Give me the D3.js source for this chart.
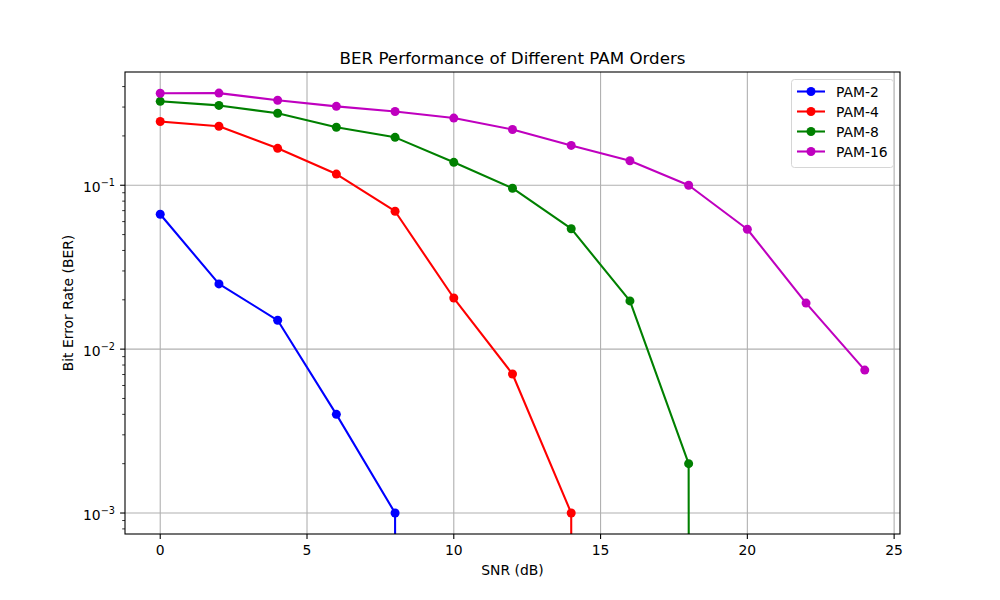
<!DOCTYPE html>
<html>
<head>
<meta charset="utf-8">
<script src="https://cdn.jsdelivr.net/npm/d3@7"></script>
<style>
  body { margin: 0; background: #fff; }
  svg { font-family: 'DejaVu Sans', sans-serif; }
</style>
</head>
<body>
<div id="plot"></div>
<script>
// data (BER 0 = no errors, drawn to the bottom like matplotlib)
const snr = [0, 2, 4, 6, 8, 10, 12, 14, 16, 18, 20, 22, 24];
const pam2  = [0.0665, 0.025, 0.015, 0.004, 0.001, 0, 0, 0, 0, 0, 0, 0, 0];
const pam4  = [0.245, 0.229, 0.168, 0.117, 0.0694, 0.0205, 0.00705, 0.001, 0, 0, 0, 0, 0];
const pam8  = [0.325, 0.307, 0.275, 0.226, 0.196, 0.138, 0.0959, 0.0543, 0.0197, 0.002, 0, 0, 0];
const pam16 = [0.364, 0.365, 0.330, 0.303, 0.282, 0.257, 0.219, 0.175, 0.141, 0.100, 0.0539, 0.0191, 0.00745];
const names = ['PAM-2', 'PAM-4', 'PAM-8', 'PAM-16'];
const colors = ['#0000ff', '#ff0000', '#008000', '#bf00bf'];
const xTicks = [0, 5, 10, 15, 20, 25];
const yTicks = [1e-1, 1e-2, 1e-3];

const series = [pam2, pam4, pam8, pam16];

const W = 1000, H = 600;
const m = { left: 125, right: 900, top: 72, bottom: 534 };

const svg = d3.select('#plot').append('svg')
  .attr('width', W).attr('height', H).attr('viewBox', [0, 0, W, H]);

const sx = d3.scaleLinear().domain([-1.2, 25.2]).range([m.left, m.right]);
const sy = d3.scaleLog().domain([Math.pow(10, -3.128), Math.pow(10, -0.309)])
  .range([m.bottom, m.top]);

svg.append('clipPath').attr('id', 'clip').append('rect')
  .attr('x', m.left).attr('y', m.top)
  .attr('width', m.right - m.left).attr('height', m.bottom - m.top);

// grid
const grid = svg.append('g').attr('stroke', '#b0b0b0').attr('stroke-width', 1.1);
grid.selectAll('.gx').data(xTicks.filter(t => t <= 25.2)).join('line')
  .attr('x1', d => sx(d)).attr('x2', d => sx(d))
  .attr('y1', m.top).attr('y2', m.bottom);
grid.selectAll('.gy').data(yTicks).join('line')
  .attr('x1', m.left).attr('x2', m.right)
  .attr('y1', d => sy(d)).attr('y2', d => sy(d));

// lines + markers
const plot = svg.append('g').attr('clip-path', 'url(#clip)');
const line = d3.line()
  .x((d, i) => sx(snr[i]))
  .y(d => sy(Math.max(d, 1e-300)));
series.forEach((s, k) => {
  plot.append('path').attr('d', line(s))
    .attr('fill', 'none').attr('stroke', colors[k]).attr('stroke-width', 2.08)
    .attr('stroke-linejoin', 'round').attr('stroke-linecap', 'square');
  plot.append('g').selectAll('circle')
    .data(s.map((v, i) => [snr[i], v]).filter(d => d[1] > 0))
    .join('circle')
    .attr('cx', d => sx(d[0])).attr('cy', d => sy(d[1]))
    .attr('r', 4.5).attr('fill', colors[k]);
});

// axes frame
svg.append('rect')
  .attr('x', m.left).attr('y', m.top)
  .attr('width', m.right - m.left).attr('height', m.bottom - m.top)
  .attr('fill', 'none').attr('stroke', '#000').attr('stroke-width', 1.1);

// x ticks
const xt = svg.append('g');
xt.selectAll('line').data(xTicks).join('line')
  .attr('x1', d => sx(d)).attr('x2', d => sx(d))
  .attr('y1', m.bottom).attr('y2', m.bottom + 4.9)
  .attr('stroke', '#000').attr('stroke-width', 1.1);
xt.selectAll('text').data(xTicks).join('text')
  .attr('x', d => sx(d)).attr('y', m.bottom + 21)
  .attr('text-anchor', 'middle').attr('font-size', 13.9)
  .text(d => d);

// y ticks (major + minor)
const minor = [];
for (let e = -4; e <= 0; e++)
  for (let k = 2; k <= 9; k++) {
    const v = k * Math.pow(10, e);
    if (v >= sy.domain()[0] && v <= sy.domain()[1]) minor.push(v);
  }
const yt = svg.append('g');
yt.selectAll('.mn').data(minor).join('line')
  .attr('x1', m.left - 2.8).attr('x2', m.left)
  .attr('y1', d => sy(d)).attr('y2', d => sy(d))
  .attr('stroke', '#000').attr('stroke-width', 0.8);
yt.selectAll('.mj').data(yTicks).join('line')
  .attr('x1', m.left - 4.9).attr('x2', m.left)
  .attr('y1', d => sy(d)).attr('y2', d => sy(d))
  .attr('stroke', '#000').attr('stroke-width', 1.1);
const ylab = yt.selectAll('text').data(yTicks).join('text')
  .attr('x', m.left - 10).attr('y', d => sy(d) + 6.5)
  .attr('text-anchor', 'end').attr('font-size', 13.9);
ylab.append('tspan').text('10');
ylab.append('tspan').attr('dy', -6).attr('font-size', 9.7)
  .text(d => '\u2212' + Math.round(-Math.log10(d)));

// labels
svg.append('text').attr('x', (m.left + m.right) / 2).attr('y', 64)
  .attr('text-anchor', 'middle').attr('font-size', 16.7)
  .text('BER Performance of Different PAM Orders');
svg.append('text').attr('x', (m.left + m.right) / 2).attr('y', 575)
  .attr('text-anchor', 'middle').attr('font-size', 13.9)
  .text('SNR (dB)');
svg.append('text')
  .attr('transform', `translate(73,${(m.top + m.bottom) / 2}) rotate(-90)`)
  .attr('text-anchor', 'middle').attr('font-size', 13.9)
  .text('Bit Error Rate (BER)');

// legend
const lg = svg.append('g');
lg.append('rect').attr('x', 791.5).attr('y', 79.5).attr('width', 102).attr('height', 88)
  .attr('rx', 3).attr('fill', '#fff').attr('fill-opacity', 0.8)
  .attr('stroke', '#d6d6d6').attr('stroke-width', 1);
names.forEach((n, i) => {
  const y = 91.5 + i * 20;
  lg.append('line').attr('x1', 797).attr('x2', 825).attr('y1', y).attr('y2', y)
    .attr('stroke', colors[i]).attr('stroke-width', 2.08);
  lg.append('circle').attr('cx', 811).attr('cy', y).attr('r', 4.5).attr('fill', colors[i]);
  lg.append('text').attr('x', 836).attr('y', y + 5).attr('font-size', 13.9).text(n);
});
</script>
</body>
</html>
